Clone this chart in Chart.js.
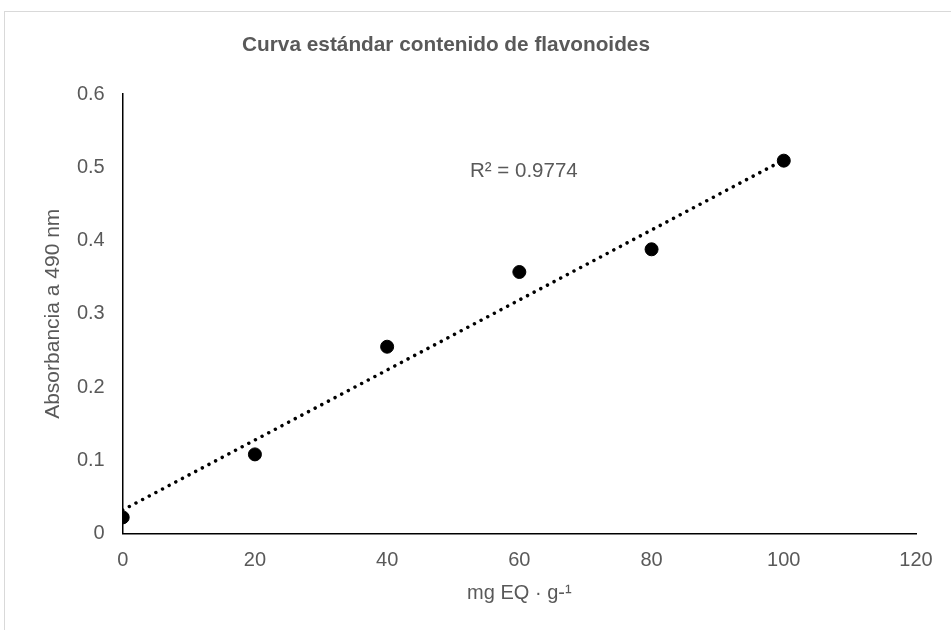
<!DOCTYPE html>
<html lang="es">
<head>
<meta charset="UTF-8">
<title>Curva estándar contenido de flavonoides</title>
<script src="https://cdn.jsdelivr.net/npm/chart.js@4.4.0/dist/chart.umd.min.js"></script>
<style>
    html, body { margin: 0; padding: 0; background: #ffffff; }
    #contenedor { width: 951px; height: 630px; position: relative; }
</style>
</head>
<body>
<div id="contenedor">
    <canvas id="curvaFlavonoides" width="951" height="630"></canvas>
</div>
<script>
const concentraciones = [0, 20, 40, 60, 80, 100];
const absorbancias = [0.022, 0.108, 0.255, 0.357, 0.388, 0.509];
const tendenciaX = [0, 100];
const tendenciaY = [0.032, 0.51];
const tituloGrafico = 'Curva estándar contenido de flavonoides';
const textoR2 = 'R² = 0.9774';
const tituloEjeX = 'mg EQ · g-¹';
const tituloEjeY = 'Absorbancia a 490 nm';

const corTexto = '#595959';
const fonte = 'Arial, "Liberation Sans", sans-serif';

// marco gris, titulo y R2 dibujados a mano
const pluginExtras = {
    id: 'extras',
    beforeDraw(chart) {
        const ctx = chart.ctx;
        ctx.save();
        ctx.strokeStyle = '#d9d9d9';
        ctx.lineWidth = 1;
        ctx.strokeRect(4.5, 11.5, 1000, 700);
        ctx.restore();
    },
    afterDraw(chart) {
        const ctx = chart.ctx;
        ctx.save();
        ctx.fillStyle = corTexto;
        ctx.textBaseline = 'middle';
        ctx.textAlign = 'center';
        ctx.font = 'bold 20.8px ' + fonte;
        ctx.fillText(tituloGrafico, 446, 45);
        ctx.textAlign = 'left';
        ctx.font = '20.5px ' + fonte;
        ctx.fillText(textoR2, 470, 171);
        ctx.restore();
    }
};

function puntos(xs, ys) {
    return xs.map((x, i) => ({ x: x, y: ys[i] }));
}

function crearGrafico() {
    const ctx = document.getElementById('curvaFlavonoides').getContext('2d');

    const config = {
        type: 'scatter',
        data: {
            datasets: [{
                label: 'Tendencia',
                data: puntos(tendenciaX, tendenciaY),
                showLine: true,
                borderColor: '#000000',
                borderWidth: 3.5,
                borderDash: [0.01, 7.5],
                borderCapStyle: 'round',
                pointRadius: 0,
                order: 2
            }, {
                label: 'Absorbancia',
                data: puntos(concentraciones, absorbancias),
                backgroundColor: '#000000',
                borderColor: '#000000',
                pointRadius: 6.5,
                pointHoverRadius: 6.5,
                order: 1
            }]
        },
        options: {
            responsive: false,
            animation: false,
            devicePixelRatio: 1,
            layout: {
                padding: { top: 94, right: 35, left: 0, bottom: 0 }
            },
            plugins: {
                legend: { display: false },
                title: { display: false },
                tooltip: { enabled: false }
            },
            scales: {
                x: {
                    type: 'linear',
                    min: 0,
                    max: 120,
                    grid: { display: false, drawTicks: false },
                    border: { display: true, color: '#000000', width: 1.5 },
                    ticks: {
                        stepSize: 20,
                        padding: 15,
                        color: corTexto,
                        font: { size: 20, family: fonte }
                    },
                    title: {
                        display: true,
                        text: tituloEjeX,
                        color: corTexto,
                        font: { size: 20, family: fonte },
                        padding: { top: 25, bottom: 25 }
                    },
                    afterFit(escala) { escala.height = 96.5; }
                },
                y: {
                    type: 'linear',
                    min: 0,
                    max: 0.6,
                    grid: { display: false, drawTicks: false },
                    border: { display: true, color: '#000000', width: 1.5 },
                    ticks: {
                        stepSize: 0.1,
                        padding: 18,
                        color: corTexto,
                        font: { size: 20, family: fonte },
                        callback: v => String(Math.round(v * 10) / 10)
                    },
                    title: {
                        display: true,
                        text: tituloEjeY,
                        color: corTexto,
                        font: { size: 21, family: fonte },
                        padding: { top: 41, bottom: 0 }
                    },
                    afterFit(escala) { escala.width = 122.7; }
                }
            }
        },
        plugins: [pluginExtras]
    };

    window.chartFlavonoides = new Chart(ctx, config);
}

document.addEventListener('DOMContentLoaded', crearGrafico);
</script>
</body>
</html>
